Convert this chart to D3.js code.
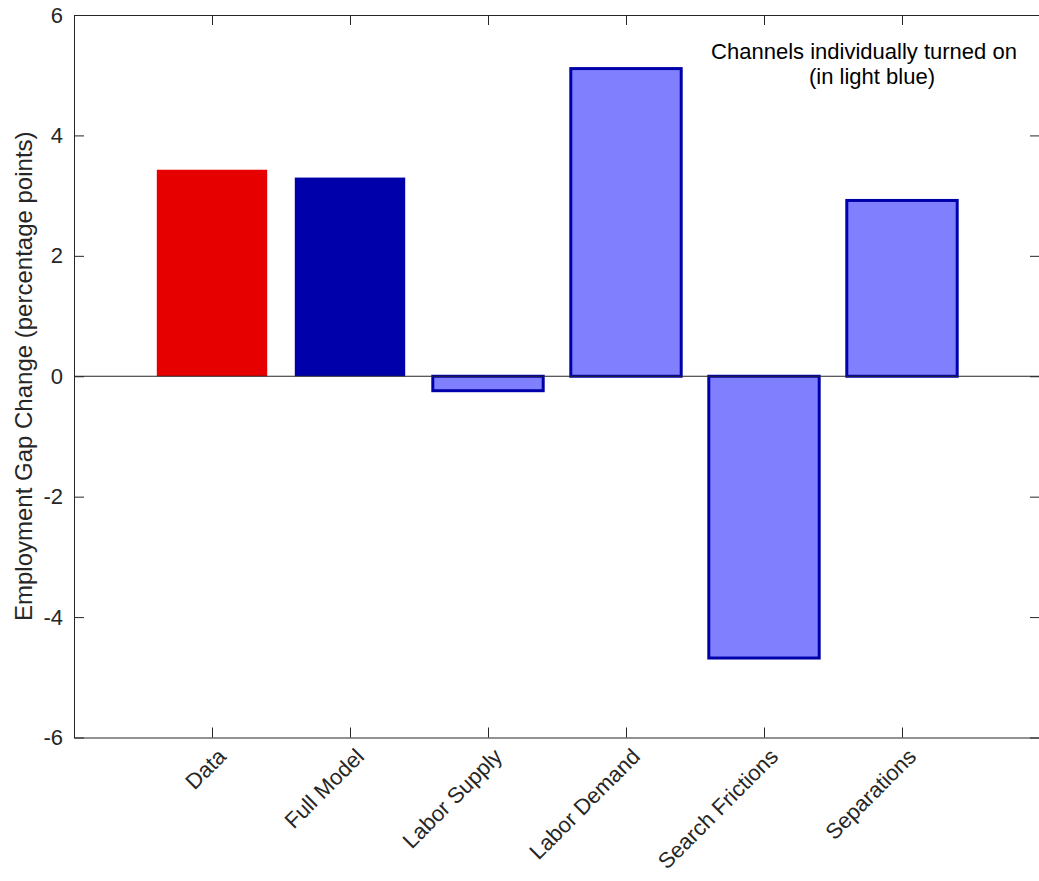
<!DOCTYPE html>
<html>
<head>
<meta charset="utf-8">
<script src="https://cdn.jsdelivr.net/npm/d3@7"></script>
<style>
  body { margin: 0; background: #fff; }
  svg { font-family: "Liberation Sans", Arial, sans-serif; }
</style>
</head>
<body>
<svg id="chart" width="1039" height="881"></svg>
<script>
const categories = ['Data', 'Full Model', 'Labor Supply', 'Labor Demand', 'Search Frictions', 'Separations']
const values = [3.43, 3.30, -0.24, 5.11, -4.68, 2.92]
const yTicks = [-6, -4, -2, 0, 2, 4, 6]
const fills = ['#e60000', '#0000aa', '#8080ff', '#8080ff', '#8080ff', '#8080ff']
const strokes = ['none', 'none', '#0000aa', '#0000aa', '#0000aa', '#0000aa']

const svg = d3.select('#chart')
const axLeft = 74, axRight = 1040, axTop = 15, axBottom = 737.5
const ink = '#262626'
const fs = 22

// matlab-ish: bars at 1..6, xlim [0 7], width 0.8
const x = d3.scaleLinear().domain([0, 7]).range([axLeft, axRight])
const y = d3.scaleLinear().domain([-6, 6]).range([axBottom, axTop])
const bw = x(0.8) - x(0)

svg.append('g').selectAll('rect')
  .data(values)
  .join('rect')
  .attr('x', (d, i) => x(i + 1) - bw / 2)
  .attr('width', bw)
  .attr('y', d => y(Math.max(0, d)))
  .attr('height', d => Math.abs(y(d) - y(0)))
  .attr('fill', (d, i) => fills[i])
  .attr('stroke', (d, i) => strokes[i])
  .attr('stroke-width', 3)

// baseline
svg.append('line')
  .attr('x1', axLeft).attr('x2', axRight)
  .attr('y1', y(0)).attr('y2', y(0))
  .attr('stroke', ink).attr('stroke-width', 1)

// axes, ticks point inward on all four sides
const tick = 10
const axL = svg.append('g').attr('transform', `translate(${axLeft},0)`)
  .call(d3.axisLeft(y).tickValues(yTicks).tickSizeInner(-tick).tickSizeOuter(0).tickPadding(11).tickFormat(d => String(d)))
const axR = svg.append('g').attr('transform', `translate(${axRight},0)`)
  .call(d3.axisRight(y).tickValues(yTicks).tickSizeInner(-tick).tickSizeOuter(0).tickFormat(''))
const axB = svg.append('g').attr('transform', `translate(0,${axBottom})`)
  .call(d3.axisBottom(x).tickValues(d3.range(1, 7)).tickSizeInner(-tick).tickSizeOuter(0).tickFormat(''))
const axT = svg.append('g').attr('transform', `translate(0,${axTop})`)
  .call(d3.axisTop(x).tickValues(d3.range(1, 7)).tickSizeInner(-tick).tickSizeOuter(0).tickFormat(''))

;[axL, axR, axB, axT].forEach(g => {
  g.selectAll('path, line').attr('stroke', ink)
  g.selectAll('text').attr('fill', ink).attr('font-size', fs)
})

// rotated category labels
svg.append('g').selectAll('text')
  .data(categories)
  .join('text')
  .attr('transform', (d, i) => `translate(${x(i + 1) + 10},${axBottom + 15}) rotate(-45)`)
  .attr('text-anchor', 'end')
  .attr('dy', '0.35em')
  .attr('font-size', fs)
  .attr('fill', ink)
  .text(d => d)

svg.append('text')
  .attr('transform', `translate(32,${(axTop + axBottom) / 2}) rotate(-90)`)
  .attr('text-anchor', 'middle')
  .attr('font-size', 24)
  .attr('fill', ink)
  .text('Employment Gap Change (percentage points)')

// annotation
const note = svg.append('text').attr('font-size', fs).attr('fill', '#000').attr('text-anchor', 'middle')
note.append('tspan').attr('x', 864).attr('y', 59).text('Channels individually turned on')
note.append('tspan').attr('x', 872).attr('y', 84).text('(in light blue)')
</script>
</body>
</html>
